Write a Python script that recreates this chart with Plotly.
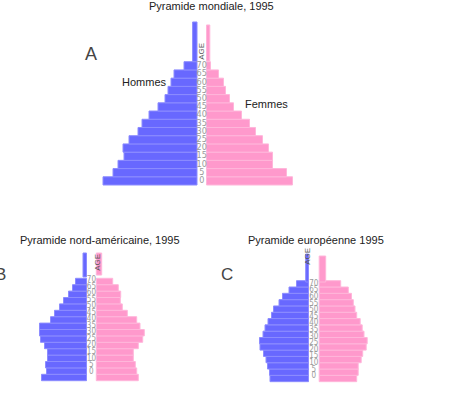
import plotly.graph_objects as go

W, H = 449, 398

# ---------------- data (youngest group first) ----------------
age_ticks = ["0", "5", "10", "15", "20", "25", "30", "35", "40", "45", "50", "55", "60", "65", "70"]

# A - Pyramide mondiale, 1995 (groups 0..70, plus 75+)
hommes_monde = [94, 84, 79, 73, 74, 68, 59, 55, 48, 39, 32, 29, 26, 23, 13]
femmes_monde = [86, 80, 66, 66, 62, 56, 49, 43, 35, 27, 23, 19, 17, 12, 4]
hommes_monde_75 = 4.4
femmes_monde_75 = 3.3

# B - Pyramide nord-americaine, 1995 (16 groups, plus 75+)
hommes_na = [45, 40, 41, 39, 39, 42, 46, 47, 47, 36, 32, 27, 23, 18, 14, 11]
femmes_na = [42, 40.4, 39, 37, 37, 42, 46.4, 48, 43.7, 40.4, 31, 26, 24, 24.4, 22, 16.4]
hommes_na_75 = 3.5
femmes_na_75 = 5.4

# C - Pyramide europeenne 1995 (16 groups, plus 75+)
hommes_eu = [38.5, 39, 41, 42.5, 45, 48.5, 49, 45.5, 43.5, 40.5, 37, 35, 29.5, 26, 19.5, 12]
femmes_eu = [37.5, 39, 39, 42, 43.5, 47, 48, 44.8, 43, 41, 37.5, 35.8, 34.1, 32.3, 29.1, 21.5]
hommes_eu_75 = 2.8
femmes_eu_75 = 6.5

# ---------------- layout of each pyramid (pixels) ----------------
pyramids = [
    dict(men=hommes_monde, women=femmes_monde, m75=hommes_monde_75, f75=femmes_monde_75,
         cx=201.75, half_gap=4.75, y0=180.9, h=8.22,
         top_m=(16.92, 4.83), top_f=(16.78, 4.38),
         lab0=0.0, labstep=1.0, age_xy=(201.75, 40.5), labsize=9),
    dict(men=hommes_na, women=femmes_na, m75=hommes_na_75, f75=femmes_na_75,
         cx=91.4, half_gap=4.9, y0=377.5, h=6.4,
         top_m=(17.58, 3.75), top_f=(17.73, 3.44),
         lab0=0.91, labstep=1.023, age_xy=(90.8, 262.5), labsize=8),
    dict(men=hommes_eu, women=femmes_eu, m75=hommes_eu_75, f75=femmes_eu_75,
         cx=313.85, half_gap=5.35, y0=378.5, h=6.31,
         top_m=(17.51, 4.44), top_f=(17.35, 4.12),
         lab0=0.35, labstep=1.048, age_xy=(313.8, 267.0), labsize=8),
]

BLUE = "#6868ff"
BLUE_EDGE = "#8c8cff"
PINK = "#ff99cc"
PINK_EDGE = "#ffb6da"
FONT = "Liberation Sans, Arial, sans-serif"
NARROW = "Liberation Sans Narrow, Arial Narrow, DejaVu Sans Condensed, sans-serif"

fig = go.Figure()
layout_axes = {}
annotations = []

for k, p in enumerate(pyramids, start=1):
    xa = "x" if k == 1 else f"x{k}"
    ya = "y" if k == 1 else f"y{k}"
    n = len(p["men"])
    ypos = list(range(n))
    men = list(p["men"]) + [p["m75"]]
    women = list(p["women"]) + [p["f75"]]
    ym = ypos + [p["top_m"][0]]
    yf = ypos + [p["top_f"][0]]
    wm = [1.0] * n + [p["top_m"][1]]
    wf = [1.0] * n + [p["top_f"][1]]

    fig.add_trace(go.Bar(
        orientation="h", y=ym, x=[-v for v in men], base=-p["half_gap"], width=wm,
        marker=dict(color=BLUE, line=dict(color=BLUE_EDGE, width=1)),
        xaxis=xa, yaxis=ya, showlegend=False, hoverinfo="skip"))
    fig.add_trace(go.Bar(
        orientation="h", y=yf, x=women, base=p["half_gap"], width=wf,
        marker=dict(color=PINK, line=dict(color=PINK_EDGE, width=1)),
        xaxis=xa, yaxis=ya, showlegend=False, hoverinfo="skip"))

    # age labels in the central gap
    fig.add_trace(go.Scatter(
        x=[0] * len(age_ticks),
        y=[p["lab0"] + i * p["labstep"] for i in range(len(age_ticks))],
        text=age_ticks, mode="text",
        textfont=dict(family=NARROW, size=p["labsize"], color="#9a9a9a"),
        xaxis=xa, yaxis=ya, showlegend=False, hoverinfo="skip"))

    lo = -(H - p["y0"]) / p["h"]
    hi = lo + H / p["h"]
    axkey = "xaxis" if k == 1 else f"xaxis{k}"
    aykey = "yaxis" if k == 1 else f"yaxis{k}"
    layout_axes[axkey] = dict(domain=[0, 1], range=[-p["cx"], W - p["cx"]], visible=False,
                              fixedrange=True, anchor=ya,
                              **({} if k == 1 else {"overlaying": "x"}))
    layout_axes[aykey] = dict(domain=[0, 1], range=[lo, hi], visible=False,
                              fixedrange=True, anchor=xa,
                              **({} if k == 1 else {"overlaying": "y"}))

    ax, ay = p["age_xy"]
    annotations.append(dict(text="AGE", x=ax / W, y=1 - ay / H, xref="paper", yref="paper",
                            showarrow=False, textangle=-90,
                            font=dict(family=FONT, size=8, color="#555555")))


def txt(s, x, y, size=11, color="#222222"):
    annotations.append(dict(text=s, x=x / W, y=1 - y / H, xref="paper", yref="paper",
                            showarrow=False, xanchor="center", yanchor="middle",
                            font=dict(family=FONT, size=size, color=color)))


txt("Pyramide mondiale, 1995", 211, 6)
txt("Hommes", 144, 81.5)
txt("Femmes", 266.5, 103.5)
txt("Pyramide nord-américaine, 1995", 100, 239.5)
txt("Pyramide européenne 1995", 316.3, 239.5)
txt("A", 91, 53.5, size=18, color="#444444")
txt("B", 0.5, 274, size=17, color="#444444")
txt("C", 227, 274, size=17, color="#444444")

fig.update_layout(
    width=W, height=H,
    margin=dict(l=0, r=0, t=0, b=0, pad=0),
    paper_bgcolor="white", plot_bgcolor="white",
    barmode="overlay", bargap=0,
    annotations=annotations,
    **layout_axes,
)

fig.write_html("out.html",
               config={"displayModeBar": False, "staticPlot": True},
               post_script="document.body.style.margin='0';document.body.style.overflow='hidden';")
